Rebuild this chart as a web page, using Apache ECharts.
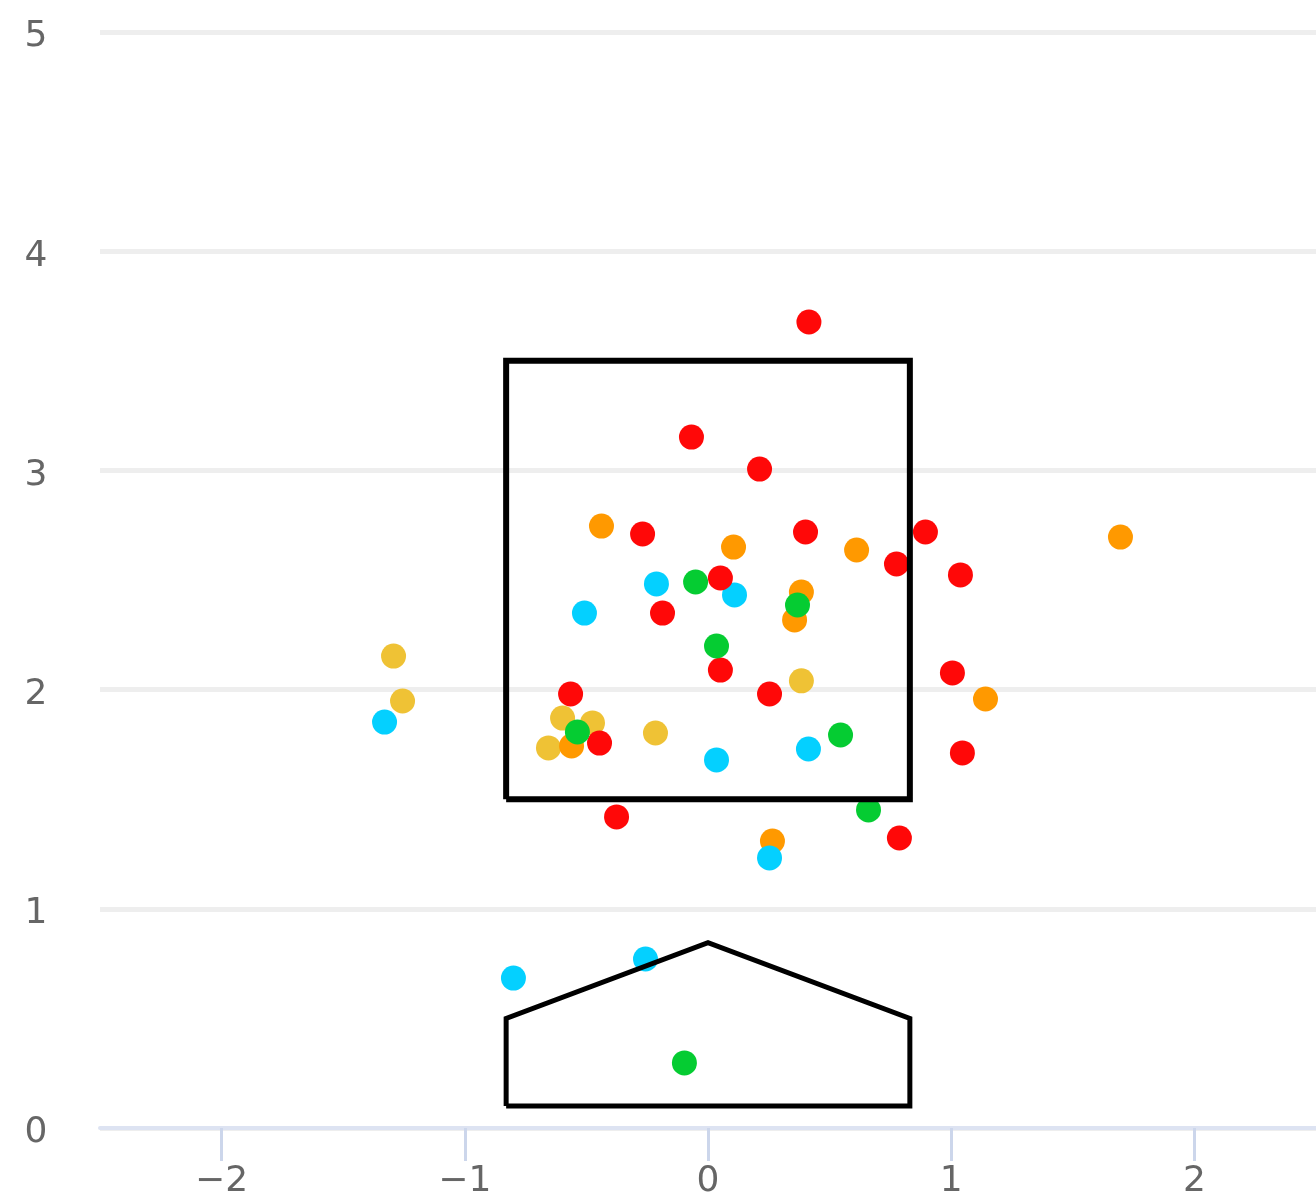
<!DOCTYPE html>
<html>
<head>
<meta charset="utf-8">
<title>Strike zone</title>
<script src="https://cdn.jsdelivr.net/npm/echarts@6/dist/echarts.min.js"></script>
<style>
  html, body { margin: 0; padding: 0; background: #fff; }
  #chart { width: 1316px; height: 1201px; }
</style>
</head>
<body>
<div id="chart"></div>
<script>
// pitch locations [plate_x, plate_z], one array per pitch type
const yellowPitches = [
  [-1.293, 2.153], [-1.256, 1.948], [0.384, 2.040], [-0.216, 1.802],
  [-0.656, 1.734], [-0.598, 1.870], [-0.475, 1.848]
];
const orangePitches = [
  [-0.438, 2.746], [0.105, 2.650], [0.611, 2.637], [1.696, 2.696],
  [0.384, 2.445], [0.356, 2.318], [1.141, 1.957], [0.265, 1.309],
  [-0.561, 1.743]
];
const cyanPitches = [
  [-1.330, 1.852], [-0.508, 2.349], [-0.212, 2.482], [0.109, 2.432],
  [0.035, 1.679], [0.413, 1.729], [0.253, 1.232], [-0.800, 0.684],
  [-0.257, 0.771]
];
const redPitches = [
  [0.415, 3.677], [-0.068, 3.152], [0.212, 3.006], [-0.269, 2.710],
  [0.401, 2.719], [0.894, 2.719], [0.775, 2.573], [1.038, 2.523],
  [0.051, 2.509], [-0.187, 2.349], [0.051, 2.089], [-0.565, 1.980],
  [0.253, 1.980], [1.005, 2.076], [-0.446, 1.756], [1.046, 1.711],
  [-0.376, 1.419], [0.787, 1.323]
];
const greenPitches = [
  [-0.051, 2.491], [0.035, 2.199], [0.368, 2.386], [-0.537, 1.807],
  [0.545, 1.793], [0.660, 1.451], [-0.097, 0.297]
];

// strike zone box and home plate outline
const strikeZone = [[-0.83, 1.5], [0.83, 1.5], [0.83, 3.5], [-0.83, 3.5], [-0.83, 1.5]];
const homePlate = [[-0.83, 0.1], [-0.83, 0.5], [0, 0.845], [0.83, 0.5], [0.83, 0.1], [-0.83, 0.1]];

const xTicks = [-2, -1, 0, 1, 2];

const labelFont = { color: '#666', fontSize: 36, fontFamily: 'DejaVu Sans' };

function minus(v) {
  return String(v).replace('-', '\u2212');
}

function pitchSeries(data, color) {
  return {
    type: 'scatter',
    data: data,
    symbol: 'circle',
    symbolSize: 25,
    itemStyle: { color: color, opacity: 1 },
    silent: true,
    z: 2
  };
}

function outline(data, w) {
  return {
    type: 'line',
    data: data,
    symbol: 'none',
    silent: true,
    lineStyle: { color: '#000', width: w, join: 'miter' },
    z: 3
  };
}

const chart = echarts.init(document.getElementById('chart'));
chart.setOption({
  animation: false,
  backgroundColor: '#fff',
  grid: { left: 100, right: 0, top: 32, bottom: 73, containLabel: false },
  xAxis: {
    type: 'value',
    min: -2.5,
    max: 2.5,
    axisLine: { show: true, lineStyle: { color: '#dde3f2', width: 4 } },
    axisTick: { show: true, customValues: xTicks, length: 33, lineStyle: { color: '#ccd6eb', width: 3 } },
    axisLabel: Object.assign({ customValues: xTicks, margin: 36, formatter: minus }, labelFont),
    splitLine: { show: false }
  },
  yAxis: {
    type: 'value',
    min: 0,
    max: 5,
    interval: 1,
    axisLine: { show: false },
    axisTick: { show: false },
    axisLabel: Object.assign({
      align: 'center',
      margin: 64,
      formatter: v => '{n|' + v + '}',
      rich: { n: { color: '#666', fontSize: 36, fontFamily: 'DejaVu Sans', padding: [10, 0, 0, 0] } }
    }, labelFont),
    splitLine: { show: true, lineStyle: { color: '#eeeeee', width: 5 } }
  },
  series: [
    pitchSeries(yellowPitches, '#efc235'),
    pitchSeries(orangePitches, '#ff9900'),
    pitchSeries(cyanPitches, '#04d0ff'),
    pitchSeries(redPitches, '#ff0808'),
    pitchSeries(greenPitches, '#05cc32'),
    outline(strikeZone, 6),
    outline(homePlate, 5)
  ]
});
</script>
</body>
</html>
